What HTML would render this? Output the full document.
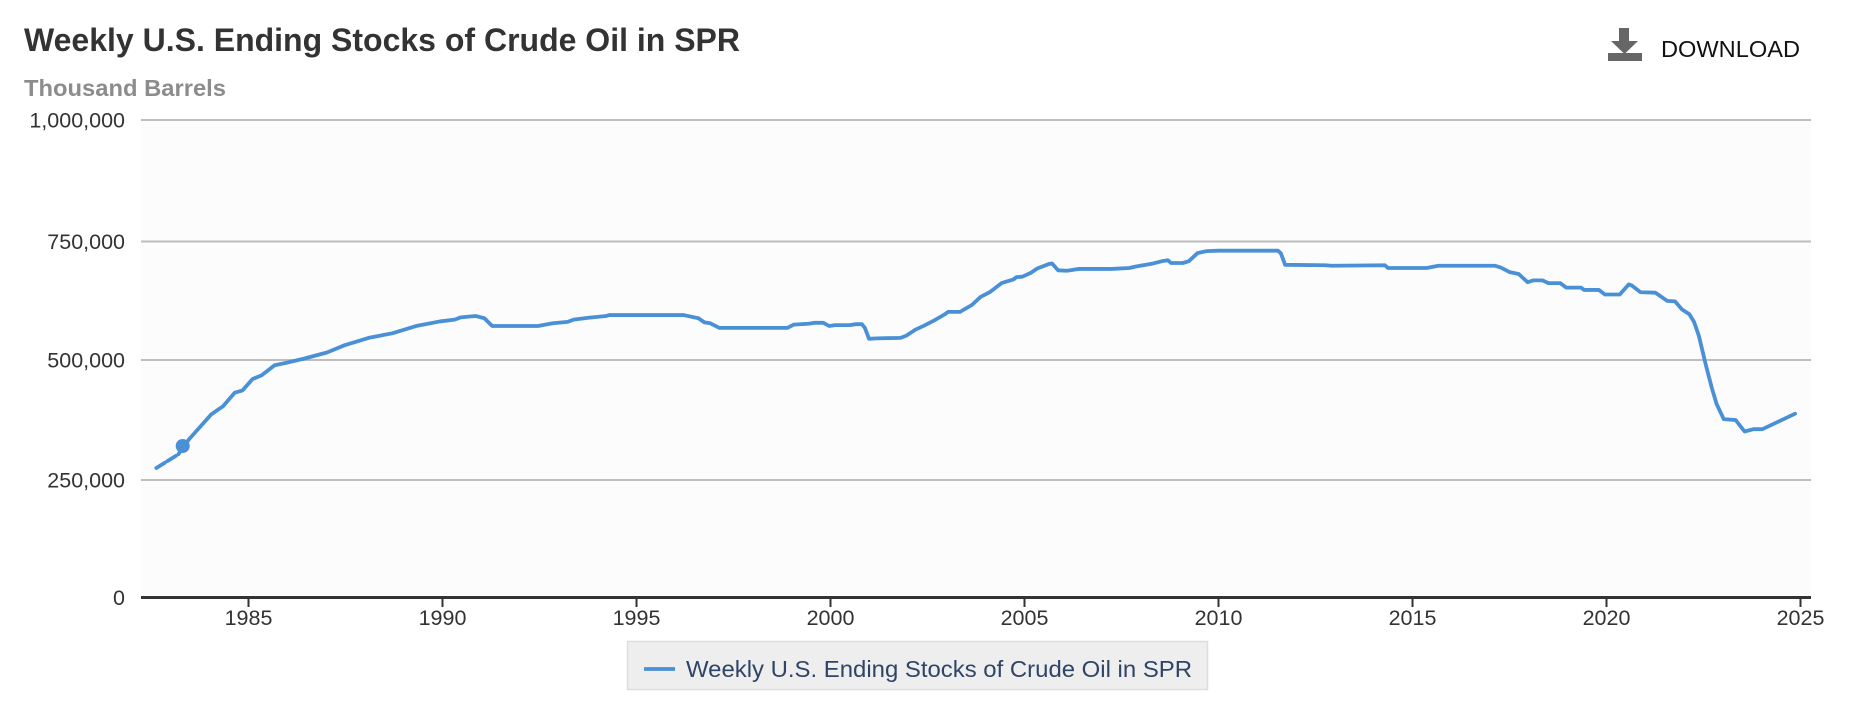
<!DOCTYPE html>
<html><head><meta charset="utf-8"><style>
html,body{margin:0;padding:0;background:#fff;}
svg{display:block;}
text{font-family:"Liberation Sans",Arial,sans-serif;}
</style></head><body>
<svg width="1864" height="716" viewBox="0 0 1864 716" xmlns="http://www.w3.org/2000/svg">
<rect x="0" y="0" width="1864" height="716" fill="#fff"/>
<text x="24" y="51" font-size="32" font-weight="bold" fill="#333" textLength="716" lengthAdjust="spacingAndGlyphs">Weekly U.S. Ending Stocks of Crude Oil in SPR</text>
<text x="24" y="96" font-size="23" font-weight="bold" fill="#8c8c8c" textLength="202" lengthAdjust="spacingAndGlyphs">Thousand Barrels</text>
<g fill="#666">
<rect x="1619" y="28" width="10" height="17"/>
<polygon points="1611,41 1638,41 1624.5,54"/>
<rect x="1608" y="53" width="34" height="8"/>
</g>
<text x="1661" y="57" font-size="23" fill="#111" textLength="139" lengthAdjust="spacingAndGlyphs">DOWNLOAD</text>
<rect x="141" y="120" width="1670" height="477" fill="#fcfcfc"/>
<g stroke="#bdbdbd" stroke-width="2">
<line x1="141" y1="120" x2="1811" y2="120"/>
<line x1="141" y1="241.5" x2="1811" y2="241.5"/>
<line x1="141" y1="360" x2="1811" y2="360"/>
<line x1="141" y1="480" x2="1811" y2="480"/>
</g>
<line x1="141" y1="597.5" x2="1811" y2="597.5" stroke="#333" stroke-width="3"/>
<g stroke="#333" stroke-width="2">
<line x1="248.5" y1="597" x2="248.5" y2="607"/>
<line x1="442.5" y1="597" x2="442.5" y2="607"/>
<line x1="636.5" y1="597" x2="636.5" y2="607"/>
<line x1="830.5" y1="597" x2="830.5" y2="607"/>
<line x1="1024.5" y1="597" x2="1024.5" y2="607"/>
<line x1="1218.5" y1="597" x2="1218.5" y2="607"/>
<line x1="1412.5" y1="597" x2="1412.5" y2="607"/>
<line x1="1606.5" y1="597" x2="1606.5" y2="607"/>
<line x1="1800.5" y1="597" x2="1800.5" y2="607"/>
</g>
<g font-size="21.5" fill="#333" text-anchor="end">
<text x="125" y="127.5">1,000,000</text>
<text x="125" y="249">750,000</text>
<text x="125" y="367.5">500,000</text>
<text x="125" y="487.5">250,000</text>
<text x="125" y="605">0</text>
</g>
<g font-size="21.5" fill="#333" text-anchor="middle">
<text x="248.5" y="625">1985</text>
<text x="442.5" y="625">1990</text>
<text x="636.5" y="625">1995</text>
<text x="830.5" y="625">2000</text>
<text x="1024.5" y="625">2005</text>
<text x="1218.5" y="625">2010</text>
<text x="1412.5" y="625">2015</text>
<text x="1606.5" y="625">2020</text>
<text x="1800.5" y="625">2025</text>
</g>
<g transform="scale(0.5944,0.4566)" fill="none" stroke="#4a90d6" stroke-linejoin="round" stroke-linecap="round">
<polyline vector-effect="non-scaling-stroke" stroke-width="3.8" stroke-dasharray="10,3" points="263,1025 300,995 318,962"/>
<polyline vector-effect="non-scaling-stroke" stroke-width="3.8" points="318,962 340,930 355,908 375,890 395,860 408,855 425,830 440,822 462,800 480,795 510,786 550,772 580,756 620,740 660,730 700,714 740,704 765,700 775,695 800,692 815,697 828,714 905,714 930,708 955,705 965,700 990,696 1020,692 1025,690 1150,690 1175,697 1185,706 1195,708 1210,718 1325,718 1335,711 1360,709 1370,707 1385,707 1395,714 1405,712 1430,712 1440,710 1450,710 1455,718 1462,742 1475,741 1515,740 1525,735 1540,722 1555,713 1570,703 1590,688 1595,683 1615,683 1635,668 1650,650 1665,640 1685,620 1705,612 1710,607 1720,606 1735,597 1745,588 1765,578 1770,577 1780,592 1795,593 1815,589 1870,589 1900,587 1910,584 1940,577 1955,572 1965,570 1970,576 1990,576 2000,572 2015,554 2030,550 2050,549 2150,549 2155,555 2162,580 2230,581 2240,582 2330,581 2335,587 2400,587 2420,582 2515,582 2525,586 2540,596 2555,600 2570,618 2580,614 2595,614 2605,620 2625,620 2635,630 2660,630 2665,635 2690,635 2700,645 2725,645 2740,623 2745,625 2760,640 2785,641 2795,650 2805,659 2818,660 2830,678 2842,688 2850,705 2858,735 2870,800 2880,850 2888,885 2900,918 2920,920 2935,945 2950,940 2965,940 3020,906"/>
</g>
<circle cx="182.7" cy="446" r="7" fill="#4a90d6"/>
<rect x="627.5" y="641.5" width="580" height="48" fill="#eeeeee" stroke="#dddddd" stroke-width="1.5"/>
<line x1="644" y1="669" x2="675" y2="669" stroke="#4a90d6" stroke-width="3.8"/>
<text x="686" y="677" font-size="23.5" fill="#2f4466" textLength="506" lengthAdjust="spacingAndGlyphs">Weekly U.S. Ending Stocks of Crude Oil in SPR</text>
</svg>
</body></html>
